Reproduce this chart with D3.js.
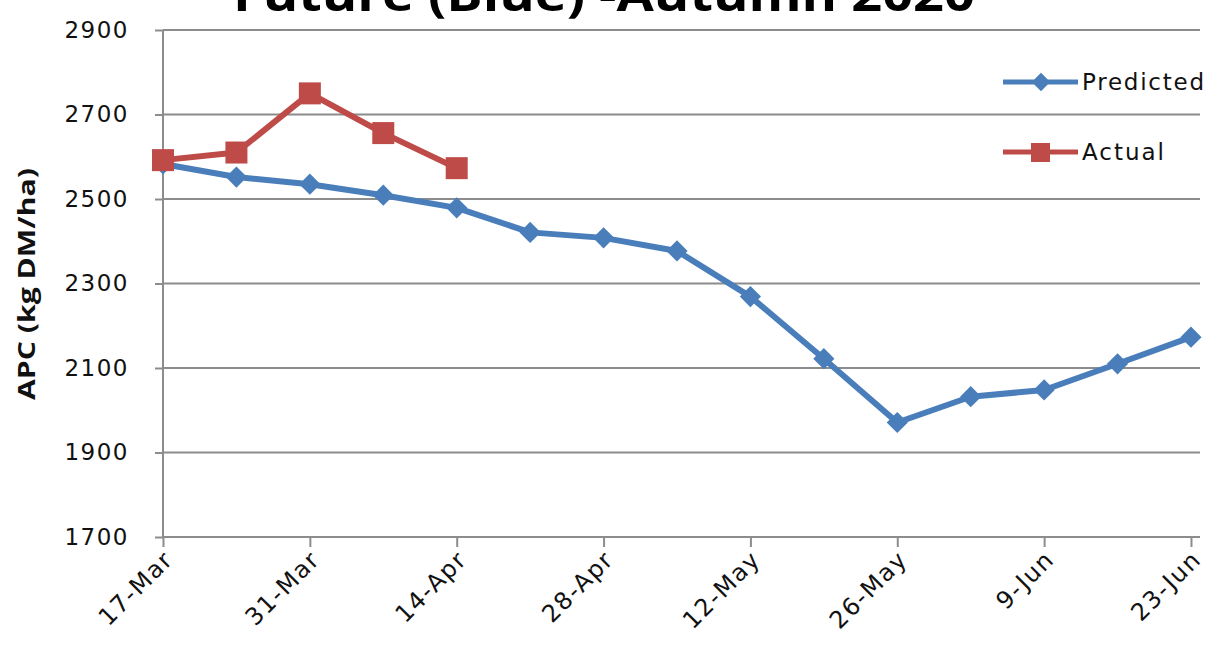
<!DOCTYPE html>
<html><head><meta charset="utf-8">
<script src="https://cdn.jsdelivr.net/npm/d3@7"></script>
<style>
html,body{margin:0;padding:0;background:#fff;overflow:hidden}
svg{display:block}
</style></head>
<body>
<svg id="chart" width="1209" height="661"></svg>
<script>
const titleText = "Future (Blue) -Autumn 2020";
const yLabel = "APC (kg DM/ha)";
const predictedDates = ["2020-03-17","2020-03-24","2020-03-31","2020-04-07","2020-04-14","2020-04-21","2020-04-28","2020-05-05","2020-05-12","2020-05-19","2020-05-26","2020-06-02","2020-06-09","2020-06-16","2020-06-23"];
const predictedValues = [2583,2552,2535,2509,2479,2421,2408,2377,2269,2122,1971,2032,2048,2110,2173];
const actualDates = ["2020-03-17","2020-03-24","2020-03-31","2020-04-07","2020-04-14"];
const actualValues = [2592,2610,2750,2656,2573];
const yTicks = [1700,1900,2100,2300,2500,2700,2900];
const xTickDates = ["2020-03-17","2020-03-31","2020-04-14","2020-04-28","2020-05-12","2020-05-26","2020-06-09","2020-06-23"];
const legendLabels = ["Predicted","Actual"];

const parse = d3.timeParse("%Y-%m-%d");
const fmt = d3.timeFormat("%-d-%b");
const svg = d3.select("#chart");
const mLeft = 163, mRight = 1200, mTop = 30, mBottom = 537;
const DAY = 86400000;
const start = parse("2020-03-17");

const x = d3.scaleTime()
  .domain([start, new Date(start.getTime() + 98.86 * DAY)])
  .range([mLeft, mRight]);
const y = d3.scaleLinear().domain([1700, 2900]).range([mBottom, mTop]);

const blue = "#4A7EBB", red = "#BE4B48", grid = "#8C8C8C";

// gridlines
svg.append("g").selectAll("line").data(yTicks.filter(v => v > 1700)).join("line")
  .attr("x1", mLeft).attr("x2", mRight)
  .attr("y1", d => y(d)).attr("y2", d => y(d))
  .attr("stroke", grid).attr("stroke-width", 2);

// y axis
const yAxis = svg.append("g").attr("transform", `translate(${mLeft},0)`)
  .call(d3.axisLeft(y).tickValues(yTicks).tickSize(8).tickFormat(d3.format("d")));
yAxis.select(".domain").attr("stroke", grid).attr("stroke-width", 2).attr("d", `M0,${mTop}V${mBottom}`);
yAxis.selectAll(".tick line").attr("stroke", grid).attr("stroke-width", 2);
yAxis.selectAll(".tick text").attr("font-family", "DejaVu Sans").attr("font-size", 23)
  .attr("letter-spacing", 1.5).attr("fill", "#111").attr("x", -34);

// x axis
const xAxis = svg.append("g").attr("transform", `translate(0,${mBottom})`)
  .call(d3.axisBottom(x).tickValues(xTickDates.map(parse)).tickSize(10).tickFormat(fmt));
xAxis.select(".domain").attr("stroke", grid).attr("stroke-width", 2).attr("d", `M${mLeft},0H${mRight}`);
xAxis.selectAll(".tick line").attr("stroke", grid).attr("stroke-width", 2);
xAxis.selectAll(".tick text")
  .attr("font-family", "DejaVu Sans").attr("font-size", 24).attr("fill", "#111")
  .attr("letter-spacing", 1.5)
  .attr("text-anchor", "end").attr("dy", 0).attr("y", 0)
  .attr("transform", "translate(11,24) rotate(-45)");

// lines
const line = d3.line().x(d => x(d.date)).y(d => y(d.value));
const pred = predictedDates.map((d, i) => ({date: parse(d), value: predictedValues[i]}));
const act = actualDates.map((d, i) => ({date: parse(d), value: actualValues[i]}));

svg.append("path").datum(pred).attr("d", line).attr("fill", "none")
  .attr("stroke", blue).attr("stroke-width", 6).attr("stroke-linejoin", "round");
svg.append("g").selectAll("rect").data(pred).join("rect")
  .attr("x", -7.5).attr("y", -7.5).attr("width", 15).attr("height", 15)
  .attr("transform", d => `translate(${x(d.date)},${y(d.value)}) rotate(45)`)
  .attr("fill", blue);

svg.append("path").datum(act).attr("d", line).attr("fill", "none")
  .attr("stroke", red).attr("stroke-width", 6).attr("stroke-linejoin", "round");
svg.append("g").selectAll("rect").data(act).join("rect")
  .attr("x", d => x(d.date) - 11).attr("y", d => y(d.value) - 11)
  .attr("width", 22).attr("height", 22).attr("fill", red);

// legend
const lg = svg.append("g");
[blue, red].forEach((c, i) => {
  const ly = 82 + i * 70;
  lg.append("line").attr("x1", 1003).attr("x2", 1078).attr("y1", ly).attr("y2", ly)
    .attr("stroke", c).attr("stroke-width", 5);
  if (i === 0) {
    lg.append("rect").attr("x", -6.5).attr("y", -6.5).attr("width", 13).attr("height", 13)
      .attr("transform", `translate(1041,${ly}) rotate(45)`).attr("fill", c);
  } else {
    lg.append("rect").attr("x", 1031).attr("y", ly - 9).attr("width", 19).attr("height", 19).attr("fill", c);
  }
  lg.append("text").attr("x", 1082).attr("y", ly + 8).text(legendLabels[i])
    .attr("font-family", "DejaVu Sans").attr("font-size", 23)
    .attr("textLength", i === 0 ? 122 : 82).attr("lengthAdjust", "spacing")
    .attr("fill", "#111");
});

// y label
svg.append("text").attr("transform", "translate(35,284) rotate(-90)")
  .attr("text-anchor", "middle").attr("font-family", "Open Sans").attr("font-weight", "bold")
  .attr("font-size", 24).attr("textLength", 232).attr("lengthAdjust", "spacingAndGlyphs")
  .attr("fill", "#111").text(yLabel);

// title (cut off at top, as in the reference)
svg.append("text").attr("x", 233).attr("y", 11).attr("textLength", 742)
  .attr("lengthAdjust", "spacingAndGlyphs")
  .attr("font-family", "Open Sans").attr("font-weight", "bold").attr("font-size", 46)
  .attr("fill", "#000").text(titleText);
</script>
</body></html>
